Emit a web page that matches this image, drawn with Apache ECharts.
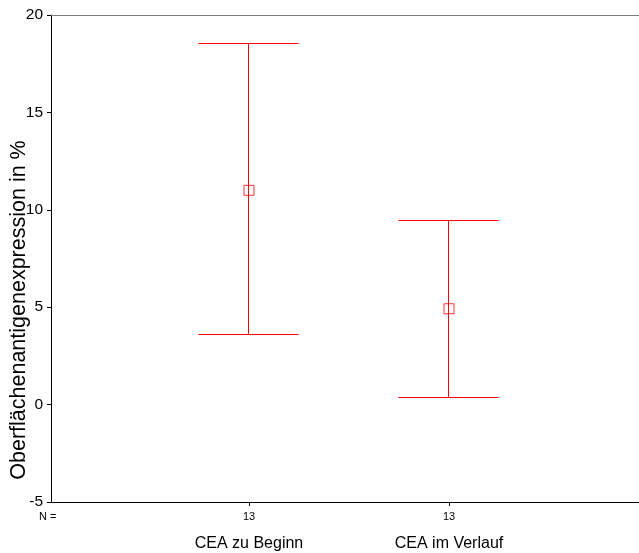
<!DOCTYPE html>
<html>
<head>
<meta charset="utf-8">
<script src="https://cdn.jsdelivr.net/npm/echarts@6/dist/echarts.min.js"></script>
<style>
html,body{margin:0;padding:0;background:#fff;}
#chart{width:639px;height:553px;}
</style>
</head>
<body>
<div id="chart"></div>
<script>
var categories = ['CEA zu Beginn', 'CEA im Verlauf'];
var positions = [1, 2];
var nValues = [13, 13];
var means = [11.0, 4.92];
var lowers = [3.62, 0.39];
var uppers = [18.53, 9.46];
var yTicks = [-5, 0, 5, 10, 15, 20];

var FONT = '"Liberation Sans", Arial, sans-serif';
var chart = echarts.init(document.getElementById('chart'), null, {renderer: 'canvas'});

var errData = positions.map(function (p, i) { return [p, lowers[i], uppers[i]]; });
var meanData = positions.map(function (p, i) { return [p, means[i]]; });

function px(v) { return Math.round(v - 0.5) + 0.5; }

var option = {
  animation: false,
  backgroundColor: '#ffffff',
  grid: {left: 51, right: 0, top: 15, bottom: 51, containLabel: false},
  xAxis: [{
    type: 'value', min: 0.01, max: 2.95,
    axisLine: {show: true, onZero: false, lineStyle: {color: '#000', width: 1}},
    splitLine: {show: false},
    axisTick: {show: true, customValues: positions, length: 4, lineStyle: {color: '#000'}},
    axisLabel: {
      show: true, customValues: positions, margin: 8, fontFamily: FONT,
      formatter: function (v) {
        var i = positions.indexOf(v);
        if (i < 0) return '';
        return '{n|' + nValues[i] + '}\n{c|' + categories[i] + '}';
      },
      rich: {
        n: {fontSize: 11, lineHeight: 14, color: '#000', fontFamily: FONT},
        c: {fontSize: 16, lineHeight: 40, color: '#000', fontFamily: FONT}
      }
    }
  }, {
    type: 'value', min: 0.01, max: 2.95, position: 'top',
    axisLine: {show: true, onZero: false, lineStyle: {color: '#808080', width: 1}},
    axisTick: {show: false}, axisLabel: {show: false}, splitLine: {show: false}
  }],
  yAxis: {
    type: 'value', min: yTicks[0], max: yTicks[yTicks.length - 1], interval: 5,
    axisLine: {show: true, onZero: false, lineStyle: {color: '#000', width: 1}},
    axisTick: {show: true, length: 4, lineStyle: {color: '#000'}},
    axisLabel: {fontSize: 15.5, color: '#000', margin: 8, fontFamily: FONT, padding: [4, 0, 0, 0]},
    splitLine: {show: false}
  },
  graphic: [{
    type: 'text', x: 19, y: 310, rotation: Math.PI / 2,
    style: {text: 'Oberflächenantigenexpression in %', fontSize: 21.5, fontFamily: FONT,
      fill: '#000', align: 'center', verticalAlign: 'middle'}
  }, {
    type: 'text', x: 39, y: 517,
    style: {text: 'N =', fontSize: 11, fontFamily: FONT, fill: '#000', align: 'left', verticalAlign: 'middle'}
  }],
  series: [{
    type: 'custom',
    data: errData,
    renderItem: function (params, api) {
      var x = api.value(0);
      var lo = api.coord([x, api.value(1)]);
      var hi = api.coord([x, api.value(2)]);
      var cx = px(hi[0]), yh = px(hi[1]), yl = px(lo[1]);
      var hw = 50;
      var st = {stroke: '#ff0000', lineWidth: 1};
      return {type: 'group', children: [
        {type: 'line', shape: {x1: cx, y1: yh, x2: cx, y2: yl}, style: st},
        {type: 'line', shape: {x1: cx - hw, y1: yh, x2: cx + hw, y2: yh}, style: st},
        {type: 'line', shape: {x1: cx - hw, y1: yl, x2: cx + hw, y2: yl}, style: st}
      ]};
    },
    z: 2
  }, {
    type: 'scatter',
    data: meanData,
    symbol: 'rect', symbolSize: 10,
    itemStyle: {color: 'rgba(0,0,0,0)', borderColor: '#ff0000', borderWidth: 1},
    z: 3
  }]
};
chart.setOption(option);
</script>
</body>
</html>
